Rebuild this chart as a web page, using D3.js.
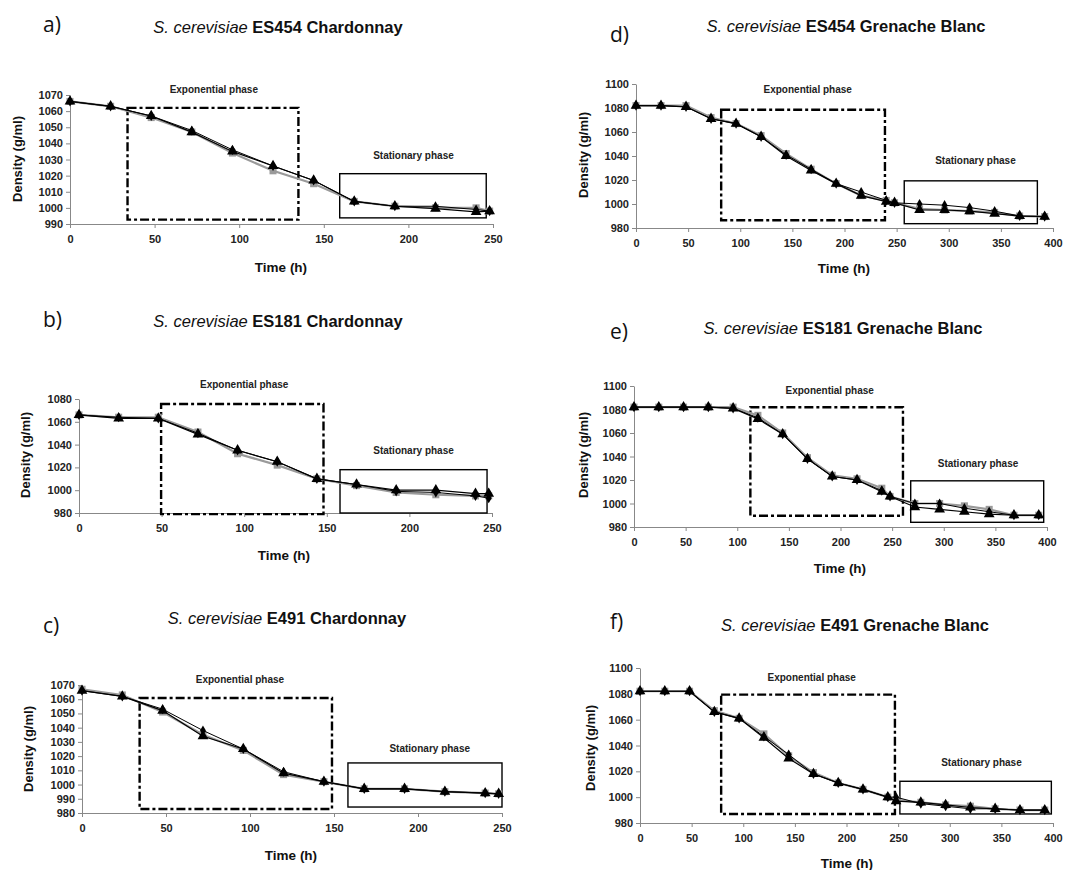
<!DOCTYPE html>
<html>
<head>
<meta charset="utf-8">
<script src="https://cdn.jsdelivr.net/npm/d3@7"></script>
<style>
  body { margin: 0; background: #fff; }
  svg { display: block; }
  .tick text { font-family: Arial, "Liberation Sans", sans-serif; font-weight: bold; font-size: 11px; fill: #222; }
  .axis path, .axis line { stroke: #888; }
</style>
</head>
<body>
<div id="vis"></div>
<script>
// sampling times (h)
const hoursShort = [0, 24, 48, 72, 96, 120, 144, 168, 192, 216, 240, 248];
const hoursLong = [0, 24, 48, 72, 96, 120, 144, 168, 192, 216, 240, 248, 272, 296, 320, 344, 368, 392];

// a) ES454 Chardonnay
const es454ChardGray = [1066, 1063, 1056, 1047, 1034, 1023, 1015, 1004, 1001, 1000, 1000, 998];
const es454ChardDiamond = [1066, 1063, 1057, 1048, 1036, 1026, 1017, 1004, 1001, 1001, 999, 998];
const es454ChardTri = [1066, 1063, 1057, 1047, 1035, 1026, 1017, 1004, 1001, 999.5, 997.5, 998];

// b) ES181 Chardonnay
const es181ChardGray = [1066, 1064, 1064, 1051, 1032, 1022, 1010, 1004, 998, 996, 995, 995];
const es181ChardDiamond = [1066, 1064, 1063, 1050, 1035, 1025, 1010, 1005, 999, 998, 995, 993];
const es181ChardTri = [1066, 1063, 1063, 1049, 1035, 1025, 1010, 1005, 1000, 1000, 997, 997];

// c) E491 Chardonnay
const e491ChardGray = [1067, 1063, 1051, 1035, 1024, 1007, 1002, 997, 997, 995, 994, 993.5];
const e491ChardDiamond = [1066, 1062, 1053, 1038, 1025, 1009, 1002, 997, 997, 995, 994, 993.5];
const e491ChardTri = [1066, 1062, 1052, 1034, 1025, 1008, 1002, 997, 997, 995, 994, 993.5];

// d) ES454 Grenache Blanc
const es454GrenGray = [1082, 1082, 1082, 1072, 1067, 1057, 1042, 1029, 1017, 1007, 1003, 1001, 996, 995, 994, 993, 990, 989.5];
const es454GrenDiamond = [1082, 1082, 1081, 1071, 1067, 1056, 1041, 1029, 1017, 1010, 1003, 1001, 1000, 999, 997, 994, 990, 989.5];
const es454GrenTri = [1082, 1082, 1081, 1071, 1067, 1056, 1040, 1028, 1017, 1007, 1002, 1001, 995, 995, 994, 992, 990, 989.5];

// e) ES181 Grenache Blanc
const es181GrenGray = [1082, 1082, 1082, 1082, 1082, 1075, 1060, 1039, 1024, 1021, 1013, 1006, 1000, 1000, 998, 995, 990, 990];
const es181GrenDiamond = [1082, 1082, 1082, 1082, 1081, 1073, 1059, 1038, 1023, 1020, 1011, 1006, 1000, 1000, 996, 993, 990, 990];
const es181GrenTri = [1082, 1082, 1082, 1082, 1081, 1072, 1059, 1038, 1023, 1020, 1010, 1006, 997, 995, 993, 991, 990, 990];

// f) E491 Grenache Blanc
const e491GrenGray = [1082, 1082, 1082, 1067, 1061, 1049, 1032, 1019, 1011, 1006, 1000, 998, 996, 994, 993, 991, 990, 990];
const e491GrenDiamond = [1082, 1082, 1082, 1066, 1061, 1047, 1033, 1018, 1011, 1006, 1000, 1000, 995, 993, 991, 991, 990, 990];
const e491GrenTri = [1082, 1082, 1082, 1066, 1061, 1046, 1030, 1018, 1011, 1006, 1000, 997, 996, 994, 992, 991, 990, 990];

// axis ticks
const xTicksShort = [0, 50, 100, 150, 200, 250];
const xTicksLong = [0, 50, 100, 150, 200, 250, 300, 350, 400];
const yTicks10 = [990, 1000, 1010, 1020, 1030, 1040, 1050, 1060, 1070];
const yTicks10c = [980, 990, 1000, 1010, 1020, 1030, 1040, 1050, 1060, 1070];
const yTicks20b = [980, 1000, 1020, 1040, 1060, 1080];
const yTicks20 = [980, 1000, 1020, 1040, 1060, 1080, 1100];

// phase boxes [x0, x1, yLow, yHigh] in data units, label positions [x, y]
const expBoxes = [[34, 135, 992.7, 1062], [49.7, 148, 979, 1075.6], [34.3, 148.8, 982.8, 1060.9],
                  [81.7, 238.8, 986.4, 1078.5], [112.7, 260.5, 989.6, 1081.9], [78.6, 246.9, 987, 1079.4]];
const statBoxes = [[159.4, 246, 993.8, 1021.2], [158, 247, 980, 1018], [158.3, 250, 984.2, 1015.2],
                   [257.3, 385, 983.6, 1019.3], [268, 396.8, 984, 1019.3], [251.7, 398.4, 987, 1012.3]];
const expLabels = [[85, 1073.7], [100, 1092.6], [94, 1074.2], [164.7, 1095.8], [189.5, 1096], [166.3, 1092.8]];
const statLabels = [[203, 1032.6], [202.5, 1034.5], [207, 1025.7], [325.6, 1036.6], [333.2, 1034.3], [330.7, 1026.5]];

const panelLetters = ['a)', 'b)', 'c)', 'd)', 'e)', 'f)'];
const strains = ['ES454', 'ES181', 'E491', 'ES454', 'ES181', 'E491'];
const wines = ['Chardonnay', 'Chardonnay', 'Chardonnay', 'Grenache Blanc', 'Grenache Blanc', 'Grenache Blanc'];

const panels = [
  { t: hoursShort, s: [es454ChardGray, es454ChardDiamond, es454ChardTri], xMax: 250, xt: xTicksShort, yd: [990, 1070], yt: yTicks10,
    px: [70, 493], py: [224, 95], title: [278, 33], letter: [43, 32], yTitle: [17, 159], xTitle: [281, 272] },
  { t: hoursShort, s: [es181ChardGray, es181ChardDiamond, es181ChardTri], xMax: 250, xt: xTicksShort, yd: [980, 1080], yt: yTicks20b,
    px: [79, 492], py: [513, 399], title: [278, 327], letter: [43, 327], yTitle: [25, 455], xTitle: [284, 560] },
  { t: hoursShort, s: [e491ChardGray, e491ChardDiamond, e491ChardTri], xMax: 250, xt: xTicksShort, yd: [980, 1070], yt: yTicks10c,
    px: [82, 502], py: [813, 685], title: [287, 624], letter: [43, 633], yTitle: [28, 749], xTitle: [291, 860] },
  { t: hoursLong, s: [es454GrenGray, es454GrenDiamond, es454GrenTri], xMax: 400, xt: xTicksLong, yd: [980, 1100], yt: yTicks20,
    px: [636, 1053], py: [228, 84], title: [846, 32], letter: [610, 42], yTitle: [583, 155], xTitle: [844, 273] },
  { t: hoursLong, s: [es181GrenGray, es181GrenDiamond, es181GrenTri], xMax: 400, xt: xTicksLong, yd: [980, 1100], yt: yTicks20,
    px: [634, 1047], py: [527, 386], title: [843, 334], letter: [610, 339], yTitle: [583, 455], xTitle: [840, 573] },
  { t: hoursLong, s: [e491GrenGray, e491GrenDiamond, e491GrenTri], xMax: 400, xt: xTicksLong, yd: [980, 1100], yt: yTicks20,
    px: [640, 1053], py: [823, 668], title: [855, 631], letter: [610, 629], yTitle: [590, 748], xTitle: [847, 868] }
];

// series styles: gray squares, black diamonds, black triangles
const seriesStyle = [
  { stroke: '#9a9a9a', width: 2.2, symbol: d3.symbolSquare, size: 50, fill: '#9a9a9a' },
  { stroke: '#000', width: 1, symbol: d3.symbolDiamond, size: 30, fill: '#000' },
  { stroke: '#000', width: 1.2, symbol: d3.symbolTriangle, size: 50, fill: '#000' }
];

const W = 1090, H = 870;
const svg = d3.select('#vis').append('svg')
  .attr('width', W)
  .attr('height', H)
  .attr('viewBox', [0, 0, W, H].join(' '));

const font = 'Arial, "Liberation Sans", sans-serif';

panels.forEach((p, i) => {
  let x = d3.scaleLinear().domain([0, p.xMax]).range(p.px);
  let y = d3.scaleLinear().domain(p.yd).range(p.py);
  let g = svg.append('g');

  // axes
  g.append('g')
    .attr('class', 'axis')
    .attr('transform', `translate(0,${p.py[0]})`)
    .call(d3.axisBottom(x).tickValues(p.xt).tickFormat(d3.format('d')).tickSize(4).tickPadding(5).tickSizeOuter(0))
    .call(a => a.selectAll('text').attr('dy', '0.9em'));

  g.append('g')
    .attr('class', 'axis')
    .attr('transform', `translate(${p.px[0]},0)`)
    .call(d3.axisLeft(y).tickValues(p.yt).tickFormat(d3.format('d')).tickSize(4).tickPadding(3).tickSizeOuter(0));

  // phase boxes
  let eb = expBoxes[i], sb = statBoxes[i];
  g.append('rect')
    .attr('x', x(eb[0])).attr('y', y(eb[3]))
    .attr('width', x(eb[1]) - x(eb[0])).attr('height', y(eb[2]) - y(eb[3]))
    .attr('fill', 'none').attr('stroke', '#000').attr('stroke-width', 2.4)
    .attr('stroke-dasharray', '9,3,3,3');
  g.append('rect')
    .attr('x', x(sb[0])).attr('y', y(sb[3]))
    .attr('width', x(sb[1]) - x(sb[0])).attr('height', y(sb[2]) - y(sb[3]))
    .attr('fill', 'none').attr('stroke', '#000').attr('stroke-width', 1.4);

  g.append('text')
    .attr('x', x(expLabels[i][0])).attr('y', y(expLabels[i][1]))
    .attr('text-anchor', 'middle').attr('dy', '0.35em')
    .style('font-family', font).style('font-weight', 'bold').style('font-size', '10px').attr('fill', '#222')
    .text('Exponential phase');
  g.append('text')
    .attr('x', x(statLabels[i][0])).attr('y', y(statLabels[i][1]))
    .attr('text-anchor', 'middle').attr('dy', '0.35em')
    .style('font-family', font).style('font-weight', 'bold').style('font-size', '10px').attr('fill', '#222')
    .text('Stationary phase');

  // series lines + markers
  p.s.forEach((vals, k) => {
    let st = seriesStyle[k];
    let pts = p.t.map((t, j) => [t, vals[j]]);
    g.append('path')
      .datum(pts)
      .attr('fill', 'none')
      .attr('stroke', st.stroke)
      .attr('stroke-width', st.width)
      .attr('d', d3.line().x(d => x(d[0])).y(d => y(d[1])));
    g.append('g')
      .selectAll('path')
      .data(pts)
      .join('path')
        .attr('transform', d => `translate(${x(d[0])},${y(d[1])})`)
        .attr('d', d3.symbol().type(st.symbol).size(st.size))
        .attr('fill', st.fill);
  });

  // axis titles
  g.append('text')
    .attr('x', p.xTitle[0]).attr('y', p.xTitle[1])
    .attr('text-anchor', 'middle')
    .style('font-family', font).style('font-weight', 'bold').style('font-size', '13.5px').attr('fill', '#111')
    .text('Time (h)');
  g.append('text')
    .attr('transform', `translate(${p.yTitle[0]},${p.yTitle[1]}) rotate(-90)`)
    .attr('text-anchor', 'middle').attr('dy', '0.35em')
    .style('font-family', font).style('font-weight', 'bold').style('font-size', '13px').attr('fill', '#111')
    .text('Density (g/ml)');

  // panel title
  let title = g.append('text')
    .attr('x', p.title[0]).attr('y', p.title[1])
    .attr('text-anchor', 'middle')
    .style('font-family', font).style('font-size', '16.5px').attr('fill', '#111');
  title.append('tspan').style('font-style', 'italic').text('S. cerevisiae ');
  title.append('tspan').style('font-weight', 'bold').text(strains[i] + ' ');
  title.append('tspan').style('font-weight', 'bold').text(wines[i]);

  // panel letter
  g.append('text')
    .attr('x', p.letter[0]).attr('y', p.letter[1])
    .style('font-family', '"Open Sans", "Noto Sans", sans-serif').style('font-size', '21px').attr('fill', '#111')
    .text(panelLetters[i]);
});
</script>
</body>
</html>
